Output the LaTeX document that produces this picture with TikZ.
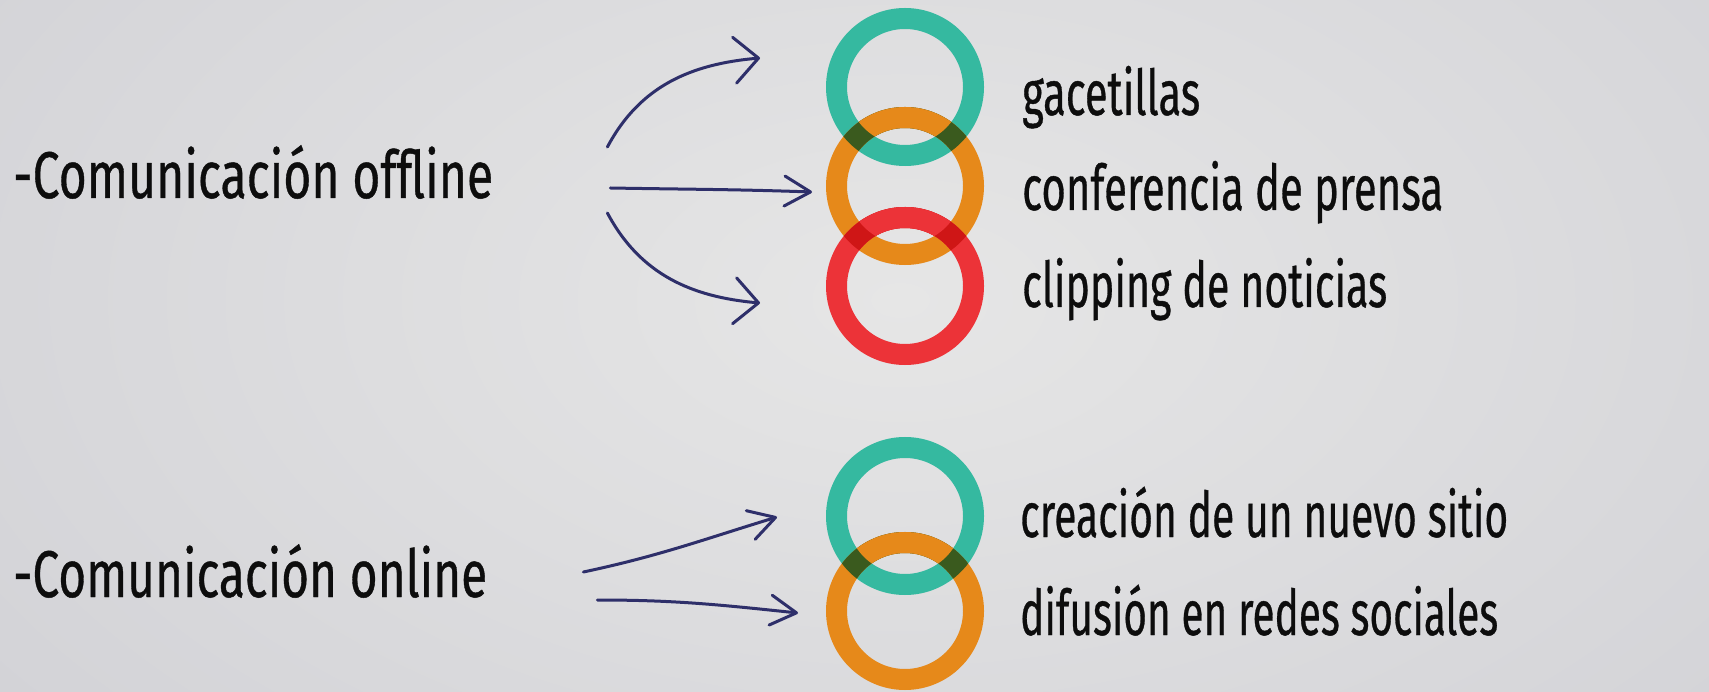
\documentclass[tikz,border=0pt]{standalone}
\usepackage{fontspec}
\setmainfont{Fira Sans}[FakeBold=0.7]
\usepackage{graphicx}
\usetikzlibrary{arrows.meta}
\definecolor{tealR}{HTML}{35B9A0}
\definecolor{orangeR}{HTML}{E6891A}
\definecolor{redR}{HTML}{EC3338}
\definecolor{tealorange}{HTML}{3A5A1E}
\definecolor{orangered}{HTML}{CF1616}
\definecolor{pen}{HTML}{2E2F6A}
\definecolor{bgin}{HTML}{E6E6E6}
\definecolor{bgout}{HTML}{CFCFD4}
\newcommand\fitto[2]{\resizebox{#1}{\height}{#2}}
\begin{document}
\begin{tikzpicture}[x=1pt,y=-1pt,
  ring/.style={circle, draw=#1, line width=21pt, minimum size=137pt, inner sep=0pt},
  bigtxt/.style={anchor=base west, inner sep=0pt, font=\fontsize{66}{72}\selectfont, text=black!95},
  smalltxt/.style={anchor=base west, inner sep=0pt, font=\fontsize{63}{70}\selectfont, text=black!95},
  pencil/.style 2 args={draw=pen, line width=3pt, line cap=round, -{Straight Barb[length=#1, width=#2, round]}}
]
\useasboundingbox (0,0) rectangle (1709,692);
\begin{scope}
  \clip (0,0) rectangle (1709,692);
  \shade[inner color=bgin, outer color=bgout] (-450,-500) rectangle (2250,1100);
\end{scope}

% rings
\node[ring=tealR]   (r1) at (905,87)  {};
\node[ring=orangeR] (r2) at (905,186) {};
\node[ring=redR]    (r3) at (905,286) {};
\node[ring=tealR]   (r4) at (905,516) {};
\node[ring=orangeR] (r5) at (905,611) {};

% overlaps
\begin{scope}
  \clip (r1.center) circle[radius=79pt];
  \draw[tealorange, line width=21pt] (r2.center) circle[radius=68.5pt];
\end{scope}
\begin{scope}
  \clip (r1.center) circle[radius=58pt];
  \draw[orangeR, line width=21pt] (r2.center) circle[radius=68.5pt];
\end{scope}
\begin{scope}
  \clip (r2.center) circle[radius=79pt];
  \draw[orangered, line width=21pt] (r3.center) circle[radius=68.5pt];
\end{scope}
\begin{scope}
  \clip (r2.center) circle[radius=58pt];
  \draw[redR, line width=21pt] (r3.center) circle[radius=68.5pt];
\end{scope}
\begin{scope}
  \clip (r4.center) circle[radius=79pt];
  \draw[tealorange, line width=21pt] (r5.center) circle[radius=68.5pt];
\end{scope}
\begin{scope}
  \clip (r4.center) circle[radius=58pt];
  \draw[orangeR, line width=21pt] (r5.center) circle[radius=68.5pt];
\end{scope}

% texts
\node[bigtxt] (off) at (13,198) {\fitto{480pt}{-Comunicación offline}};
\node[bigtxt] (on)  at (13,597) {\fitto{474pt}{-Comunicación online}};
\node[smalltxt] (t1) at (1022,115) {\fitto{178pt}{gacetillas}};
\node[smalltxt] (t2) at (1022,210) {\fitto{421pt}{conferencia de prensa}};
\node[smalltxt] (t3) at (1022,307) {\fitto{365pt}{clipping de noticias}};
\node[smalltxt] (t4) at (1020,537) {\fitto{488pt}{creación de un nuevo sitio}};
\node[smalltxt] (t5) at (1020,635) {\fitto{478pt}{difusión en redes sociales}};

% arrows
\draw[pencil={24pt}{46pt}] ([shift={(114,-51)}]off.base east) to[out=62,in=185] ([shift={(-66,-29)}]r1.west);
\draw[pencil={26pt}{30pt}] ([shift={(117,-10)}]off.base east) to[out=-1,in=178] ([shift={(-14,6)}]r2.west);
\draw[pencil={24pt}{46pt}] ([shift={(114,15)}]off.base east) to[out=-62,in=175] ([shift={(-66,17)}]r3.west);
\draw[pencil={26pt}{30pt}] ([shift={(96,-25)}]on.base east) to[out=12,in=197] ([shift={(-49,1)}]r4.west);
\draw[pencil={26pt}{30pt}] ([shift={(110,3)}]on.base east) to[out=0,in=174] ([shift={(-28,2)}]r5.west);
\end{tikzpicture}
\end{document}
